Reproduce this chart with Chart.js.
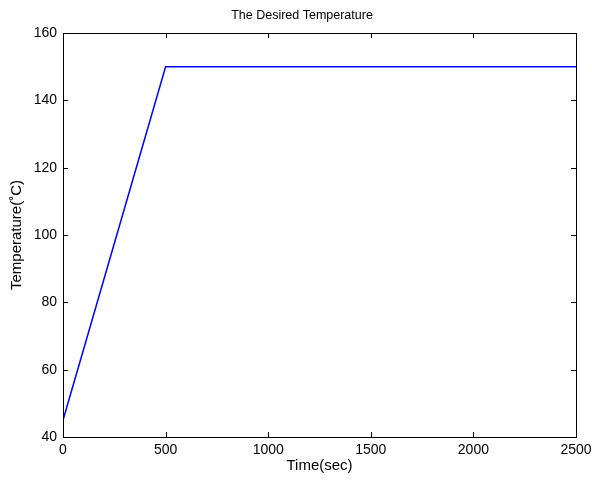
<!DOCTYPE html>
<html>
<head>
<meta charset="utf-8">
<script src="https://cdn.jsdelivr.net/npm/chart.js@4"></script>
<style>
  html, body { margin: 0; padding: 0; background: #fff; }
  #wrap { width: 592px; height: 482px; }
</style>
</head>
<body>
<div id="wrap"><canvas id="myChart"></canvas></div>
<script>
// data
const timeSec = [0, 500, 2500];
const tempC = [45, 150, 150];
const xTicks = [0, 500, 1000, 1500, 2000, 2500];
const yTicks = [40, 60, 80, 100, 120, 140, 160];

const points = timeSec.map((t, i) => ({ x: t, y: tempC[i] }));

// box around the plot with inward ticks, like matlab
const boxTicks = {
  id: "boxTicks",
  afterDraw(chart) {
    const { ctx, chartArea: a, scales } = chart;
    const len = 5;
    ctx.save();
    ctx.strokeStyle = "#000";
    ctx.lineWidth = 1;
    ctx.beginPath();
    xTicks.forEach((v) => {
      const px = Math.round(scales.x.getPixelForValue(v)) + 0.5;
      ctx.moveTo(px, a.bottom);
      ctx.lineTo(px, a.bottom - len);
      ctx.moveTo(px, a.top);
      ctx.lineTo(px, a.top + len);
    });
    yTicks.forEach((v) => {
      const py = Math.round(scales.y.getPixelForValue(v)) + 0.5;
      ctx.moveTo(a.left, py);
      ctx.lineTo(a.left + len, py);
      ctx.moveTo(a.right, py);
      ctx.lineTo(a.right - len, py);
    });
    ctx.stroke();
    ctx.strokeRect(Math.round(a.left) + 0.5, Math.round(a.top) + 0.5,
      Math.round(a.right - a.left), Math.round(a.bottom - a.top));
    ctx.restore();
  },
};

const family = "Arial, 'Liberation Sans', sans-serif";
const tickFont = { family: family, size: 14 };
const labelFont = { family: family, size: 15 };

new Chart(document.getElementById("myChart"), {
  type: "line",
  data: {
    datasets: [
      {
        data: points,
        borderColor: "#0000ff",
        borderWidth: 1.5,
        pointRadius: 0,
        tension: 0,
        fill: false,
      },
    ],
  },
  options: {
    responsive: true,
    maintainAspectRatio: false,
    animation: false,
    layout: { padding: { left: 28, right: 16, top: 0, bottom: 0 } },
    plugins: {
      legend: { display: false },
      tooltip: { enabled: false },
      title: {
        display: true,
        text: "The Desired Temperature",
        color: "#000",
        font: { family: family, size: 12.5, weight: "normal" },
        padding: { top: 8, bottom: 10 },
      },
    },
    scales: {
      x: {
        type: "linear",
        min: 0,
        max: 2500,
        afterBuildTicks: (s) => { s.ticks = xTicks.map((v) => ({ value: v })); },
        afterFit: (s) => {
          s.height = 45;
          s.paddingLeft = 0;
          s.paddingRight = 0;
        },
        grid: { display: false, drawTicks: false },
        border: { display: false },
        ticks: {
          color: "#000",
          font: tickFont,
          padding: 5,
          maxRotation: 0,
          callback: (v) => String(v),
        },
        title: {
          display: true,
          text: "Time(sec)",
          color: "#000",
          font: labelFont,
          padding: { top: 2, bottom: 7 },
        },
      },
      y: {
        min: 40,
        max: 160,
        afterBuildTicks: (s) => { s.ticks = yTicks.map((v) => ({ value: v })); },
        afterFit: (s) => { s.width = 35; },
        grid: { display: false, drawTicks: false },
        border: { display: false },
        ticks: {
          color: "#000",
          font: tickFont,
          padding: 6,
          callback: (v) => String(v),
        },
        title: {
          display: true,
          text: "Temperature(˚C)",
          color: "#000",
          font: labelFont,
          padding: { top: -20, bottom: 0 },
        },
      },
    },
  },
  plugins: [boxTicks],
});
</script>
</body>
</html>
